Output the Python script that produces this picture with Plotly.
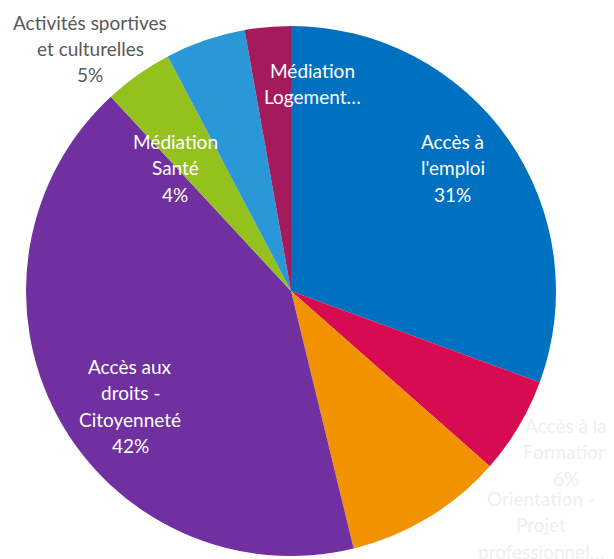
import plotly.graph_objects as go

categories = [
    "Accès à l'emploi",
    "Accès à la Formation",
    "Orientation - Projet professionnel",
    "Accès aux droits - Citoyenneté",
    "Médiation Santé",
    "Activités sportives et culturelles",
    "Médiation Logement",
]
values = [30.6, 5.9, 9.7, 41.9, 4.2, 4.9, 2.8]
# label text as it is wrapped/truncated on the chart
label_lines = [
    ["Accès à", "l'emploi"],
    ["Accès à la", "Formation"],
    ["Orientation -", "Projet", "professionnel…"],
    ["Accès aux", "droits -", "Citoyenneté"],
    ["Médiation", "Santé"],
    ["Activités sportives", "et culturelles"],
    ["Médiation", "Logement…"],
]
show_pct = [True, True, False, True, True, True, False]

colors = ["#0070C0", "#D60B52", "#F39200", "#7030A0", "#95C11F", "#2A97D7", "#A51A5B"]
label_colors = ["white", "#EFEFEF", "#EFEFEF", "white", "white", "#595959", "white"]
# label centre (x, first line y) in window pixels
label_pos = [(453, 141), (566, 425), (541, 498), (130, 366), (175, 141), (90, 22), (312, 70)]

# the page body has an 8px margin, so the figure is drawn from (8, 8)
OFF = 8
W, H = 614 - OFF, 559 - OFF
line_h = 26.5

fig = go.Figure()
fig.add_trace(
    go.Pie(
        labels=categories,
        values=values,
        sort=False,
        direction="clockwise",
        rotation=0,
        textinfo="none",
        hoverinfo="label+percent",
        marker=dict(colors=colors, line=dict(width=0)),
        domain=dict(
            x=[(26 - OFF) / W, (556 - OFF) / W],
            y=[1 - (556 - OFF) / H, 1 - (26 - OFF) / H],
        ),
        showlegend=False,
    )
)

total = sum(values)
for i, lines in enumerate(label_lines):
    lines = list(lines)
    if show_pct[i]:
        lines.append(f"{round(values[i] / total * 100)}%")
    x0, y0 = label_pos[i]
    for k, t in enumerate(lines):
        fig.add_annotation(
            x=(x0 - OFF) / W,
            y=1 - (y0 - OFF + k * line_h) / H,
            xref="paper",
            yref="paper",
            text=t,
            showarrow=False,
            xanchor="center",
            yanchor="middle",
            font=dict(family="Lato, Open Sans, sans-serif", size=19, color=label_colors[i]),
        )

fig.update_layout(
    width=W,
    height=H,
    margin=dict(l=0, r=0, t=0, b=0),
    paper_bgcolor="white",
    plot_bgcolor="white",
)
fig.write_html("out.html")
